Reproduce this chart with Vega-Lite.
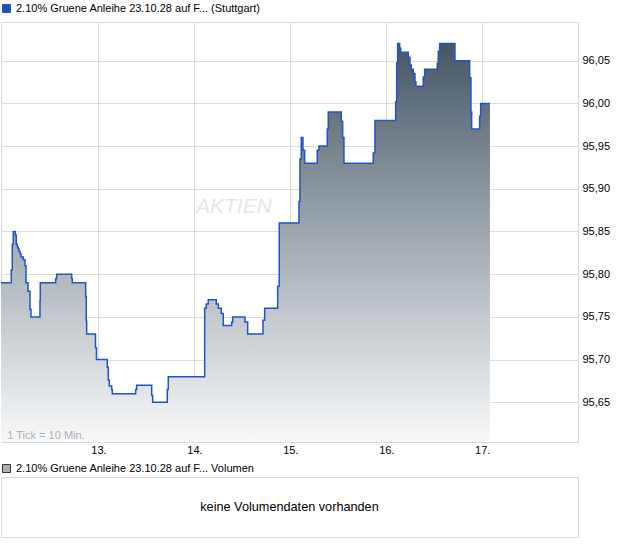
{
  "$schema": "https://vega.github.io/schema/vega-lite/v6.json",
  "padding": {"left": -3, "top": 2, "right": 0, "bottom": 0},
  "background": "white",
  "config": {
    "view": {"stroke": "#d9d9d9", "strokeWidth": 1},
    "font": "Liberation Sans",
    "axis": {"labelFont": "Liberation Sans", "labelFontSize": 11, "labelColor": "#000", "gridColor": "#dcdcdc", "gridWidth": 1, "gridOpacity": 1, "ticks": false, "domain": false},
    "legend": {"labelFont": "Liberation Sans", "labelFontSize": 11, "labelColor": "#000", "padding": 0, "symbolType": "square", "symbolSize": 64, "labelOffset": 4, "orient": "top", "title": null, "labelLimit": 0}
  },
  "spacing": 6,
  "vconcat": [
    {
      "width": 577,
      "height": 420,
      "data": {"values": [
        {"t": 11.9838, "v": 95.790}, {"t": 12.0912, "v": 95.805}, {"t": 12.1016, "v": 95.835}, {"t": 12.1120, "v": 95.850},
        {"t": 12.1329, "v": 95.846}, {"t": 12.1433, "v": 95.835}, {"t": 12.1537, "v": 95.832}, {"t": 12.1610, "v": 95.830},
        {"t": 12.1714, "v": 95.827}, {"t": 12.1819, "v": 95.824}, {"t": 12.1923, "v": 95.820}, {"t": 12.2163, "v": 95.817},
        {"t": 12.2340, "v": 95.810}, {"t": 12.2444, "v": 95.790}, {"t": 12.2652, "v": 95.780}, {"t": 12.2861, "v": 95.759},
        {"t": 12.2965, "v": 95.750}, {"t": 12.3903, "v": 95.769}, {"t": 12.3934, "v": 95.790}, {"t": 12.5539, "v": 95.795},
        {"t": 12.5644, "v": 95.800}, {"t": 12.7207, "v": 95.795}, {"t": 12.7269, "v": 95.790}, {"t": 12.8666, "v": 95.774},
        {"t": 12.8729, "v": 95.745}, {"t": 12.8770, "v": 95.730}, {"t": 12.9687, "v": 95.714}, {"t": 12.9792, "v": 95.700},
        {"t": 13.0917, "v": 95.691}, {"t": 13.1021, "v": 95.676}, {"t": 13.1126, "v": 95.669}, {"t": 13.1376, "v": 95.665},
        {"t": 13.1438, "v": 95.660}, {"t": 13.3877, "v": 95.665}, {"t": 13.3981, "v": 95.670}, {"t": 13.5545, "v": 95.658},
        {"t": 13.5649, "v": 95.650}, {"t": 13.7170, "v": 95.665}, {"t": 13.7275, "v": 95.680}, {"t": 14.1068, "v": 95.760},
        {"t": 14.1235, "v": 95.765}, {"t": 14.1443, "v": 95.770}, {"t": 14.2277, "v": 95.765}, {"t": 14.2486, "v": 95.760},
        {"t": 14.2798, "v": 95.754}, {"t": 14.3007, "v": 95.740}, {"t": 14.3882, "v": 95.744}, {"t": 14.3986, "v": 95.750},
        {"t": 14.5268, "v": 95.744}, {"t": 14.5550, "v": 95.730}, {"t": 14.7144, "v": 95.746}, {"t": 14.7322, "v": 95.760},
        {"t": 14.8676, "v": 95.786}, {"t": 14.8843, "v": 95.860}, {"t": 15.0896, "v": 95.885}, {"t": 15.1000, "v": 95.935},
        {"t": 15.1136, "v": 95.960}, {"t": 15.1313, "v": 95.945}, {"t": 15.1490, "v": 95.930}, {"t": 15.2804, "v": 95.945},
        {"t": 15.2981, "v": 95.950}, {"t": 15.3846, "v": 95.970}, {"t": 15.3950, "v": 95.990}, {"t": 15.5305, "v": 95.979},
        {"t": 15.5451, "v": 95.960}, {"t": 15.5586, "v": 95.930}, {"t": 15.8640, "v": 95.942}, {"t": 15.8817, "v": 95.980},
        {"t": 16.0974, "v": 96.002}, {"t": 16.1079, "v": 96.048}, {"t": 16.1183, "v": 96.070}, {"t": 16.1391, "v": 96.065},
        {"t": 16.1496, "v": 96.060}, {"t": 16.2288, "v": 96.054}, {"t": 16.2465, "v": 96.045}, {"t": 16.2600, "v": 96.040},
        {"t": 16.2809, "v": 96.035}, {"t": 16.2986, "v": 96.025}, {"t": 16.3090, "v": 96.020}, {"t": 16.3851, "v": 96.031},
        {"t": 16.3997, "v": 96.040}, {"t": 16.5310, "v": 96.047}, {"t": 16.5414, "v": 96.061}, {"t": 16.5560, "v": 96.070},
        {"t": 16.7155, "v": 96.050}, {"t": 16.8687, "v": 96.030}, {"t": 16.8822, "v": 95.990}, {"t": 16.8895, "v": 95.970},
        {"t": 16.9729, "v": 95.985}, {"t": 16.9833, "v": 96.000}, {"t": 17.0802, "v": 96.000}
      ]},
      "layer": [
        {
          "mark": {"type": "area", "interpolate": "step-after", "clip": true, "fill": {"gradient": "linear", "x1": 0, "y1": 1, "x2": 0, "y2": 0, "stops": [{"offset": 0, "color": "#f8f9fa"}, {"offset": 0.5, "color": "#a3acb3"}, {"offset": 1, "color": "#455664"}]}},
          "encoding": {
            "x": {"field": "t", "type": "quantitative", "scale": {"domain": [11.984, 17.998], "nice": false, "zero": false}, "axis": {"values": [13, 14, 15, 16, 17], "labelExpr": "datum.value + '.'", "title": null, "grid": true, "labelPadding": 2}},
            "y": {"field": "v", "type": "quantitative", "scale": {"domain": [95.6035, 96.0953], "nice": false, "zero": false}, "axis": {"orient": "right", "values": [95.65, 95.7, 95.75, 95.8, 95.85, 95.9, 95.95, 96.0, 96.05], "labelExpr": "replace(format(datum.value, '.2f'), '.', ',')", "title": null, "grid": true, "labelPadding": 4}},
            "y2": {"datum": 95.6035}
          }
        },
        {
          "mark": {"type": "line", "interpolate": "step-after", "strokeWidth": 1.5},
          "encoding": {
            "x": {"field": "t", "type": "quantitative"},
            "y": {"field": "v", "type": "quantitative"},
            "color": {"datum": "2.10% Gruene Anleihe 23.10.28 auf F... (Stuttgart)", "scale": {"range": ["#1f55c6"]}, "legend": {"offset": 7, "encode": {"symbols": {"update": {"fill": {"value": "#1f4fb8"}, "stroke": {"value": "#1a2a50"}, "strokeWidth": {"value": 1}}}}}}
          }
        },
        {
          "data": {"values": [{"t": 12.05, "v": 95.6105, "label": "1 Tick = 10 Min."}]},
          "mark": {"type": "text", "align": "left", "baseline": "middle", "fontSize": 11, "color": "#a9afb8"},
          "encoding": {
            "x": {"field": "t", "type": "quantitative"},
            "y": {"field": "v", "type": "quantitative"},
            "text": {"field": "label"}
          }
        },
        {
          "data": {"values": [{"t": 14.412, "v": 95.8787, "label": "AKTIEN"}]},
          "mark": {"type": "text", "align": "center", "baseline": "middle", "fontSize": 21, "fontStyle": "italic", "color": "#ebe5de"},
          "encoding": {
            "x": {"field": "t", "type": "quantitative"},
            "y": {"field": "v", "type": "quantitative"},
            "text": {"field": "label"}
          }
        }
      ]
    },
    {
      "width": 577,
      "height": 60,
      "data": {"values": [{"label": "keine Volumendaten vorhanden", "px": 0.5, "py": 0.5}]},
      "encoding": {
        "x": {"field": "px", "type": "quantitative", "scale": {"domain": [0, 1]}, "axis": null},
        "y": {"field": "py", "type": "quantitative", "scale": {"domain": [0, 1]}, "axis": null}
      },
      "layer": [
        {
          "mark": {"type": "text", "align": "center", "baseline": "middle", "fontSize": 12.7, "color": "#000000"},
          "encoding": {"text": {"field": "label"}}
        },
        {
          "mark": {"type": "point", "shape": "square", "filled": true, "opacity": 0},
          "encoding": {
            "color": {"datum": "2.10% Gruene Anleihe 23.10.28 auf F... Volumen", "scale": {"range": ["#b0b0b0"]}, "legend": {"offset": 2, "symbolOpacity": 1, "encode": {"symbols": {"update": {"fill": {"value": "#b0b0b0"}, "stroke": {"value": "#333333"}, "strokeWidth": {"value": 1}, "opacity": {"value": 1}}}}}}
          }
        }
      ]
    }
  ],
  "resolve": {"scale": {"color": "independent"}, "legend": {"color": "independent"}}
}
